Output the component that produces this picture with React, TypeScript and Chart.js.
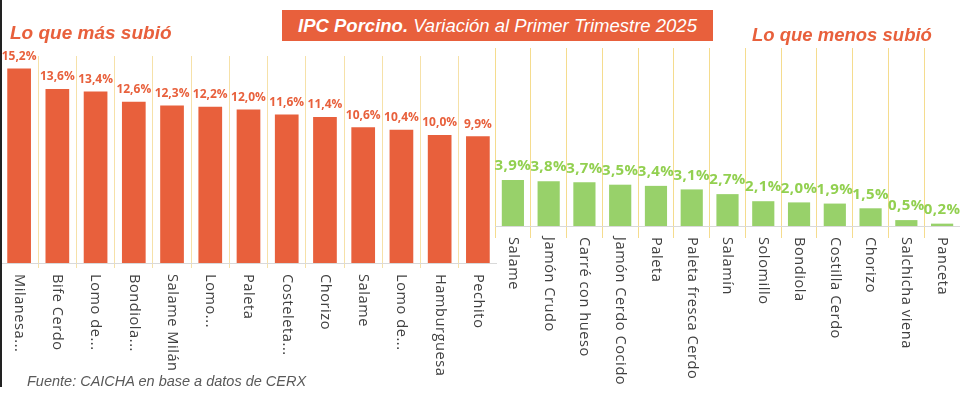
import React, { useEffect, useRef } from "react";
import { Chart, registerables } from "chart.js";

Chart.register(...registerables);

const topCategories = [
  "Milanesa...",
  "Bife Cerdo",
  "Lomo de...",
  "Bondiola...",
  "Salame Milán",
  "Lomo...",
  "Paleta",
  "Costeleta...",
  "Chorizo",
  "Salame",
  "Lomo de...",
  "Hamburguesa",
  "Pechito",
];
const topValues = [15.2, 13.6, 13.4, 12.6, 12.3, 12.2, 12.0, 11.6, 11.4, 10.6, 10.4, 10.0, 9.9];

const bottomCategories = [
  "Salame",
  "Jamón Crudo",
  "Carré con hueso",
  "Jamón Cerdo Cocido",
  "Paleta",
  "Paleta fresca Cerdo",
  "Salamín",
  "Solomillo",
  "Bondiola",
  "Costilla Cerdo",
  "Chorizo",
  "Salchicha viena",
  "Panceta",
];
const bottomValues = [3.9, 3.8, 3.7, 3.5, 3.4, 3.1, 2.7, 2.1, 2.0, 1.9, 1.5, 0.5, 0.2];

const ORANGE = "#E8603C";
const GREEN_BAR = "#98D16A";
const GREEN_LABEL = "#92D050";
const LABEL_FONT = "'Open Sans', 'Noto Sans', sans-serif";

type PanelProps = {
  w: number;
  labels: string[];
  values: number[];
  barColor: string;
  labelColor: string;
  labelFontSize: number;
  labelSpacing: string;
  labelOffset: number;
  yMax: number;
  top: number;
  bottom: number;
  height: number;
  gridColor: string;
  gridDash: number[];
  tickLength: number;
};

function fmt(v: number) {
  return v.toFixed(1).replace(".", ",") + "%";
}

function Panel(props: PanelProps) {
  const ref = useRef<HTMLCanvasElement | null>(null);
  useEffect(() => {
    if (!ref.current) return;
    const p = props;
    const labelPlugin = {
      id: "customLabels",
      afterDraw(chart: any) {
        const ctx = chart.ctx;
        const xs = chart.scales.x;
        const area = chart.chartArea;
        const meta = chart.getDatasetMeta(0);
        ctx.save();
        ctx.fillStyle = p.labelColor;
        ctx.font = `bold ${p.labelFontSize}px ${LABEL_FONT}`;
        (ctx as any).letterSpacing = p.labelSpacing;
        ctx.textAlign = "center";
        ctx.textBaseline = "middle";
        meta.data.forEach((bar: any, i: number) => {
          ctx.fillText(fmt(p.values[i]), bar.x, bar.y - p.labelOffset);
        });
        ctx.fillStyle = "#404040";
        ctx.font = `14.5px ${LABEL_FONT}`;
        (ctx as any).letterSpacing = "0.6px";
        ctx.textAlign = "left";
        ctx.textBaseline = "middle";
        p.labels.forEach((lab, i) => {
          const x = xs.getPixelForValue(i);
          ctx.save();
          ctx.translate(x, area.bottom + 11);
          ctx.rotate(Math.PI / 2);
          ctx.fillText(lab, 0, 0);
          ctx.restore();
        });
        (ctx as any).letterSpacing = "0px";
        ctx.restore();
      },
    };
    const chart = new Chart(ref.current, {
      type: "bar",
      data: {
        labels: p.labels,
        datasets: [
          {
            data: p.values,
            backgroundColor: p.barColor,
            barPercentage: 0.62,
            categoryPercentage: 1,
          },
        ],
      },
      options: {
        animation: false,
        responsive: false,
        maintainAspectRatio: false,
        layout: { padding: { top: p.top, left: 0, right: 0, bottom: 0 } },
        plugins: {
          legend: { display: false },
          title: { display: false },
          tooltip: { enabled: false },
        },
        scales: {
          x: {
            display: true,
            ticks: { display: false },
            grid: {
              display: true,
              offset: true,
              color: p.gridColor,
              lineWidth: 1,
              drawTicks: true,
              tickLength: p.tickLength,
            },
            border: { display: true, color: "#D9D9D9" },
            afterFit: (scale: any) => {
              scale.height = p.height - p.bottom;
            },
          },
          y: {
            display: false,
            min: 0,
            max: p.yMax,
          },
        },
      },
      plugins: [labelPlugin],
    } as any);
    return () => chart.destroy();
  }, []);
  return <canvas ref={ref} width={props.w} height={props.height} />;
}

export default function App() {
  useEffect(() => {
    document.body.style.margin = "0";
  }, []);
  return (
    <div
      style={{
        position: "fixed",
        left: 0,
        top: 0,
        width: 960,
        height: 395,
        background: "#ffffff",
        overflow: "hidden",
        fontFamily: "'Liberation Sans', Arial, sans-serif",
      }}
    >
      <div style={{ position: "absolute", left: 0, top: 0, width: 497, height: 395 }}>
        <Panel
          w={497}
          labels={topCategories}
          values={topValues}
          barColor={ORANGE}
          labelColor={ORANGE}
          labelFontSize={12}
          labelSpacing="0px"
          labelOffset={12}
          yMax={16.17}
          top={56}
          bottom={263}
          height={395}
          gridColor="rgba(240, 205, 110, 0.6)"
          gridDash={[]}
          tickLength={5}
        />
      </div>
      <div style={{ position: "absolute", left: 495, top: 0, width: 465, height: 395 }}>
        <Panel
          w={465}
          labels={bottomCategories}
          values={bottomValues}
          barColor={GREEN_BAR}
          labelColor={GREEN_LABEL}
          labelFontSize={15}
          labelSpacing="0.4px"
          labelOffset={14}
          yMax={15.08}
          top={48}
          bottom={226}
          height={395}
          gridColor="#F5DC8E"
          gridDash={[]}
          tickLength={12}
        />
      </div>
      <div
        style={{
          position: "absolute",
          left: 0,
          top: 0,
          width: 2,
          height: 387,
          background: "#222222",
        }}
      />
      <div
        style={{
          position: "absolute",
          left: 282,
          top: 10,
          width: 431,
          height: 31,
          background: ORANGE,
          color: "#ffffff",
          fontStyle: "italic",
          fontSize: 18.5,
          lineHeight: "31px",
          textAlign: "center",
          whiteSpace: "nowrap",
        }}
      >
        <b>IPC Porcino.</b> Variación al Primer Trimestre 2025
      </div>
      <div
        style={{
          position: "absolute",
          left: 10,
          top: 21,
          color: ORANGE,
          fontStyle: "italic",
          fontWeight: "bold",
          fontSize: 19,
          lineHeight: "24px",
          whiteSpace: "nowrap",
        }}
      >
        Lo que más subió
      </div>
      <div
        style={{
          position: "absolute",
          left: 752,
          top: 23,
          color: ORANGE,
          fontStyle: "italic",
          fontWeight: "bold",
          fontSize: 18.5,
          lineHeight: "24px",
          whiteSpace: "nowrap",
        }}
      >
        Lo que menos subió
      </div>
      <div
        style={{
          position: "absolute",
          left: 27,
          top: 372,
          color: "#595959",
          fontStyle: "italic",
          fontSize: 14.5,
          lineHeight: "18px",
          whiteSpace: "nowrap",
        }}
      >
        Fuente: CAICHA en base a datos de CERX
      </div>
    </div>
  );
}
